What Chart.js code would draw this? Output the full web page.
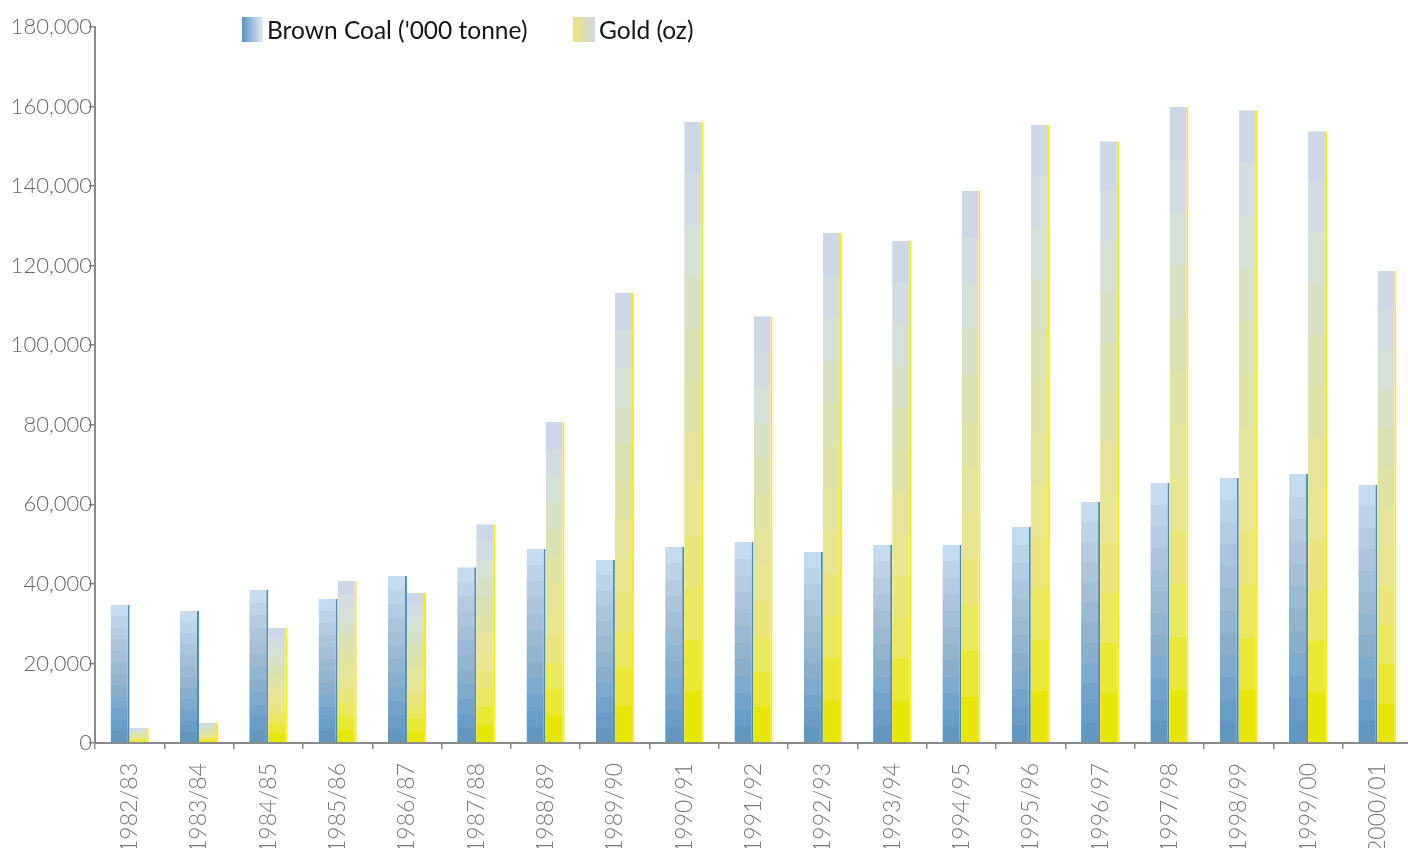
<!DOCTYPE html>
<html>
<head>
<meta charset="utf-8">
<script src="https://cdn.jsdelivr.net/npm/chart.js@4.4.1/dist/chart.umd.min.js"></script>
<style>
html, body { margin: 0; padding: 0; background: #fff; overflow: hidden; }
#wrap { position: relative; width: 1419px; height: 848px; }
</style>
</head>
<body>
<div id="wrap"><canvas id="chart"></canvas></div>
<script>
// financial years
var years = ['1982/83', '1983/84', '1984/85', '1985/86', '1986/87', '1987/88', '1988/89',
    '1989/90', '1990/91', '1991/92', '1992/93', '1993/94', '1994/95', '1995/96',
    '1996/97', '1997/98', '1998/99', '1999/00', '2000/01'];

var brownCoal = [34700, 33200, 38500, 36200, 42000, 44200, 48800, 46000, 49300, 50500,
    48000, 49800, 49800, 54300, 60600, 65400, 66600, 67600, 64900];

var gold = [3800, 5000, 28900, 40700, 37700, 55000, 80700, 113100, 156100, 107300,
    128200, 126200, 138800, 155400, 151300, 159900, 159100, 153800, 118700];

var yTicks = [0, 20000, 40000, 60000, 80000, 100000, 120000, 140000, 160000, 180000];

// colour bands, bottom to top
var coalBands = ['#6297c2', '#699cc6', '#73a3ca', '#7eaacd', '#89afcd', '#93b4cf',
    '#9cb9d3', '#a5bfd7', '#adc5db', '#b4cbe1', '#bcd3e8', '#c5dbef'];
var goldBands = ['#e6e60a', '#e9e834', '#eae85e', '#eae67c', '#e8e690', '#e4e49c',
    '#dfe3a8', '#dae2b4', '#d7e1c6', '#d4e1d6', '#d1dde0', '#ccd8e8'];

function bandFill(colors) {
    return function (ctx) {
        var chart = ctx.chart;
        if (!chart.chartArea || ctx.type !== 'data') return colors[0];
        var y = chart.scales.y;
        var base = y.getPixelForValue(0);
        var top = y.getPixelForValue(ctx.raw);
        if (Math.abs(base - top) < 1) return colors[0];
        var g = chart.ctx.createLinearGradient(0, base, 0, top);
        var n = colors.length;
        for (var i = 0; i < n; i++) {
            g.addColorStop(i / n, colors[i]);
            g.addColorStop((i + 1) / n, colors[i]);
        }
        return g;
    };
}

// legend drawn over the top of the plot, like the original
var boxLegend = {
    id: 'boxLegend',
    afterDraw: function (chart) {
        var c = chart.ctx;
        var items = [
            { x: 242, w: 21, label: chart.data.datasets[0].label, from: '#5a92c8', to: '#e2ebf6' },
            { x: 573, w: 22, label: chart.data.datasets[1].label, from: '#f1e27a', to: '#cfd8e5' }
        ];
        c.save();
        items.forEach(function (it) {
            var g = c.createLinearGradient(it.x, 0, it.x + it.w, 0);
            g.addColorStop(0, it.from);
            g.addColorStop(1, it.to);
            c.fillStyle = g;
            c.fillRect(it.x, 17, it.w, 25);
            c.fillStyle = '#151515';
            c.font = '24.5px Lato';
            c.textBaseline = 'middle';
            c.textAlign = 'left';
            c.fillText(it.label, it.x + it.w + 4, 31);
        });
        c.restore();
    }
};

var chart = new Chart(document.getElementById('chart'), {
    type: 'bar',
    data: {
        labels: years,
        datasets: [
            {
                label: "Brown Coal ('000 tonne)",
                data: brownCoal,
                backgroundColor: bandFill(coalBands),
                borderColor: '#4a8bbf',
                borderWidth: { right: 2, top: 0, left: 0, bottom: 0 },
                borderSkipped: false,
                barPercentage: 1,
                categoryPercentage: 0.55
            },
            {
                label: 'Gold (oz)',
                data: gold,
                backgroundColor: bandFill(goldBands),
                borderColor: '#ffee00',
                borderWidth: { right: 2, top: 0, left: 0, bottom: 0 },
                borderSkipped: false,
                barPercentage: 1,
                categoryPercentage: 0.55
            }
        ]
    },
    options: {
        responsive: true,
        maintainAspectRatio: false,
        animation: false,
        layout: { padding: { top: 27, left: 0, right: 0, bottom: 0 } },
        plugins: {
            legend: { display: false },
            tooltip: { enabled: false }
        },
        scales: {
            x: {
                grid: { drawOnChartArea: false, offset: true, color: '#888', lineWidth: 1.5, tickLength: 6 },
                border: { color: '#8a8a8a', width: 2 },
                ticks: {
                    autoSkip: false, minRotation: 90, maxRotation: 90, padding: 14,
                    color: '#777', font: { family: 'Lato', size: 23, weight: '300' }
                },
                afterFit: function (s) { s.height = 105; }
            },
            y: {
                min: 0,
                max: 180000,
                afterBuildTicks: function (s) {
                    s.ticks = yTicks.map(function (v) { return { value: v }; });
                },
                grid: { drawOnChartArea: false, color: '#888', lineWidth: 1.5, tickLength: 6 },
                border: { color: '#8a8a8a', width: 2 },
                ticks: {
                    padding: -3,
                    color: '#666', font: { family: 'Lato', size: 22, weight: '300' },
                    callback: function (v) { return v.toLocaleString('en-US'); }
                },
                afterFit: function (s) { s.width = 95; }
            }
        }
    },
    plugins: [boxLegend]
});
</script>
</body>
</html>
